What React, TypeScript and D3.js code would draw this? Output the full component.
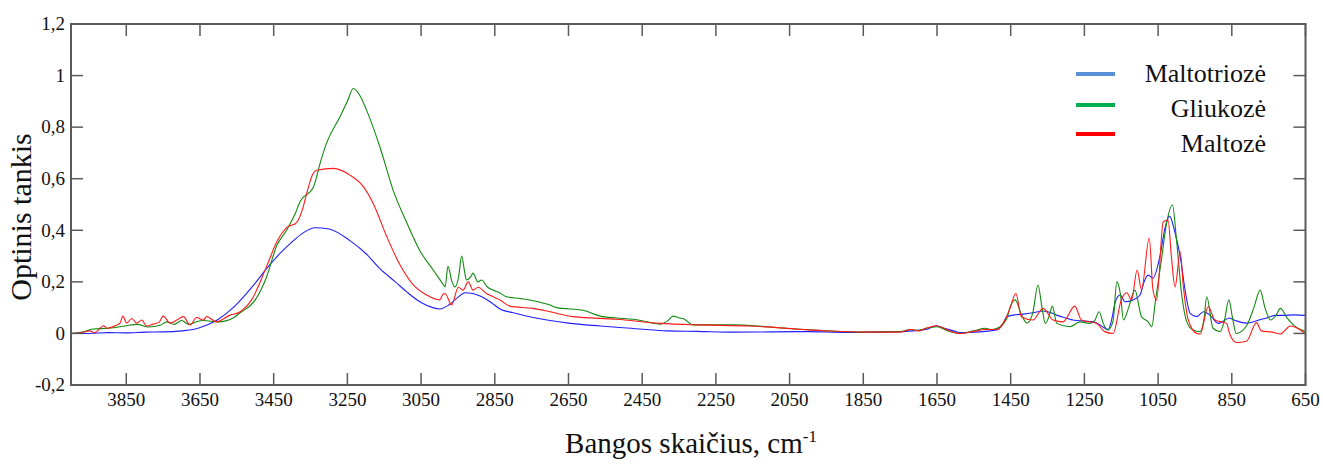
import React from "react";
import * as d3 from "d3";

const W = 1323;
const H = 465;

const xTicks = [3850, 3650, 3450, 3250, 3050, 2850, 2650, 2450, 2250, 2050, 1850, 1650, 1450, 1250, 1050, 850, 650];
const yTicks = [-0.2, 0, 0.2, 0.4, 0.6, 0.8, 1, 1.2];
const yTickLabels = ["-0,2", "0", "0,2", "0,4", "0,6", "0,8", "1", "1,2"];

const seriesNames = ["Maltotriozė", "Gliukozė", "Maltozė"];
const lineColors = ["#1f1fff", "#108a10", "#ff1a1a"];
const legendColors = ["#5b8fd8", "#00b050", "#ff0000"];

const blueWn = [4000, 3950, 3900, 3850, 3800, 3750, 3700, 3669, 3640, 3600, 3560, 3530, 3500, 3470, 3433, 3400, 3370, 3338, 3300, 3243, 3200, 3161, 3120, 3088, 3050, 3018, 2999, 2975, 2950, 2931, 2910, 2890, 2860, 2836, 2800, 2746, 2700, 2650, 2564, 2480, 2383, 2300, 2203, 2100, 2000, 1900, 1800, 1750, 1700, 1680, 1651, 1630, 1600, 1588, 1550, 1520, 1488, 1470, 1461, 1440, 1416, 1390, 1362, 1340, 1325, 1300, 1281, 1250, 1226, 1205, 1186, 1175, 1167, 1153, 1140, 1118, 1099, 1088, 1077, 1064, 1045, 1031, 1019, 1004, 990, 977, 963, 945, 927, 909, 887, 870, 858, 840, 810, 780, 756, 730, 712, 680, 650];
const blueAbs = [0.0, 0.0, 0.003, 0.002, 0.005, 0.006, 0.01, 0.015, 0.028, 0.055, 0.1, 0.145, 0.195, 0.25, 0.31, 0.355, 0.39, 0.41, 0.405, 0.36, 0.31, 0.25, 0.2, 0.16, 0.12, 0.1, 0.095, 0.11, 0.14, 0.158, 0.155, 0.145, 0.12, 0.095, 0.08, 0.062, 0.05, 0.04, 0.029, 0.02, 0.01, 0.008, 0.005, 0.006, 0.007, 0.004, 0.006, 0.007, 0.012, 0.015, 0.03, 0.02, 0.008, 0.003, 0.005, 0.008, 0.013, 0.04, 0.065, 0.072, 0.075, 0.08, 0.087, 0.08, 0.071, 0.06, 0.052, 0.048, 0.045, 0.03, 0.015, 0.06, 0.118, 0.149, 0.123, 0.13, 0.149, 0.2, 0.226, 0.214, 0.3, 0.41, 0.455, 0.39, 0.3, 0.17, 0.078, 0.065, 0.084, 0.071, 0.039, 0.05, 0.06, 0.05, 0.04, 0.05, 0.06, 0.07, 0.07, 0.072, 0.07];

const greenWn = [4000, 3970, 3940, 3900, 3867, 3850, 3820, 3790, 3758, 3740, 3720, 3700, 3680, 3660, 3642, 3600, 3560, 3541, 3500, 3469, 3442, 3415, 3390, 3379, 3343, 3320, 3306, 3270, 3250, 3234, 3215, 3198, 3161, 3126, 3089, 3053, 3017, 2990, 2985, 2977, 2966, 2958, 2948, 2940, 2932, 2927, 2915, 2909, 2896, 2886, 2870, 2855, 2836, 2818, 2780, 2746, 2700, 2682, 2610, 2564, 2520, 2474, 2420, 2401, 2380, 2366, 2350, 2339, 2312, 2250, 2203, 2112, 2022, 1950, 1850, 1750, 1720, 1700, 1680, 1651, 1620, 1588, 1550, 1520, 1500, 1479, 1460, 1452, 1438, 1420, 1406, 1390, 1376, 1365, 1356, 1345, 1337, 1325, 1289, 1262, 1235, 1222, 1210, 1199, 1186, 1172, 1162, 1152, 1144, 1130, 1113, 1095, 1077, 1067, 1058, 1041, 1027, 1011, 1000, 986, 972, 955, 936, 925, 918, 901, 882, 870, 858, 848, 838, 810, 790, 773, 760, 745, 730, 718, 700, 683, 650];
const greenAbs = [0.0, 0.005, 0.017, 0.02, 0.026, 0.03, 0.035, 0.025, 0.032, 0.045, 0.035, 0.05, 0.035, 0.045, 0.05, 0.045, 0.06, 0.08, 0.13, 0.22, 0.34, 0.4, 0.47, 0.51, 0.565, 0.68, 0.74, 0.84, 0.9, 0.95, 0.92, 0.866, 0.72, 0.556, 0.43, 0.32, 0.246, 0.19, 0.18, 0.26, 0.2, 0.18, 0.22, 0.3, 0.24, 0.207, 0.22, 0.234, 0.2, 0.207, 0.18, 0.168, 0.157, 0.142, 0.135, 0.127, 0.11, 0.1, 0.09, 0.067, 0.06, 0.055, 0.04, 0.036, 0.05, 0.067, 0.06, 0.058, 0.033, 0.033, 0.033, 0.026, 0.016, 0.01, 0.005, 0.007, 0.015, 0.012, 0.02, 0.026, 0.01, 0.0, 0.01, 0.02, 0.015, 0.026, 0.06, 0.1, 0.13, 0.07, 0.04, 0.08, 0.188, 0.1, 0.039, 0.07, 0.106, 0.039, 0.026, 0.045, 0.039, 0.05, 0.084, 0.039, 0.013, 0.05, 0.2, 0.15, 0.052, 0.1, 0.168, 0.065, 0.045, 0.026, 0.118, 0.285, 0.427, 0.498, 0.362, 0.15, 0.045, 0.013, 0.007, 0.06, 0.142, 0.02, 0.007, 0.05, 0.13, 0.06, 0.0, 0.03, 0.1, 0.168, 0.1, 0.052, 0.07, 0.097, 0.06, 0.033, 0.007];

const redWn = [4000, 3970, 3950, 3935, 3912, 3903, 3880, 3867, 3859, 3849, 3835, 3822, 3808, 3795, 3777, 3760, 3750, 3731, 3713, 3695, 3677, 3659, 3641, 3632, 3605, 3570, 3541, 3510, 3469, 3440, 3415, 3388, 3370, 3361, 3343, 3333, 3288, 3243, 3207, 3180, 3143, 3107, 3071, 3035, 3000, 2990, 2985, 2967, 2949, 2936, 2922, 2909, 2895, 2873, 2854, 2836, 2809, 2746, 2700, 2637, 2519, 2401, 2293, 2157, 2022, 1950, 1850, 1750, 1720, 1700, 1680, 1651, 1620, 1588, 1550, 1520, 1488, 1470, 1452, 1436, 1421, 1390, 1362, 1335, 1308, 1276, 1258, 1217, 1195, 1172, 1150, 1135, 1122, 1107, 1095, 1074, 1064, 1054, 1036, 1023, 1014, 1004, 990, 982, 968, 945, 936, 914, 896, 864, 856, 837, 810, 783, 770, 740, 718, 691, 664, 650];
const redAbs = [0.0, 0.003, 0.01, 0.003, 0.03, 0.02, 0.03, 0.04, 0.067, 0.04, 0.058, 0.04, 0.052, 0.029, 0.036, 0.045, 0.067, 0.04, 0.052, 0.065, 0.033, 0.062, 0.052, 0.065, 0.045, 0.07, 0.084, 0.13, 0.26, 0.36, 0.41, 0.43, 0.49, 0.54, 0.62, 0.633, 0.64, 0.614, 0.57, 0.504, 0.375, 0.265, 0.188, 0.149, 0.13, 0.153, 0.155, 0.11, 0.179, 0.168, 0.2, 0.168, 0.179, 0.155, 0.142, 0.13, 0.106, 0.097, 0.084, 0.065, 0.055, 0.039, 0.033, 0.029, 0.016, 0.01, 0.005, 0.005, 0.015, 0.01, 0.02, 0.03, 0.012, 0.0, 0.008, 0.015, 0.015, 0.04, 0.097, 0.155, 0.065, 0.052, 0.097, 0.052, 0.045, 0.106, 0.052, 0.039, 0.007, 0.0, 0.13, 0.158, 0.13, 0.246, 0.17, 0.37, 0.17, 0.13, 0.433, 0.44, 0.3, 0.18, 0.317, 0.19, 0.052, 0.0, -0.002, 0.104, 0.052, 0.039, 0.0, -0.035, -0.03, 0.042, 0.01, 0.005, -0.002, 0.029, 0.013, -0.003];

const left = 71;
const right = 1305.5;
const top = 24;
const bottom = 385;

const FONT = '"Liberation Serif"';

export default function App() {
  const x = d3.scaleLinear().domain([4000, 650]).range([left, right]);
  const y = d3.scaleLinear().domain([-0.2, 1.2]).range([bottom, top]);
  const series = [
    { wn: blueWn, v: blueAbs },
    { wn: greenWn, v: greenAbs },
    { wn: redWn, v: redAbs },
  ];
  const line = d3
    .line<[number, number]>()
    .x((d) => x(d[0]))
    .y((d) => y(d[1]))
    .curve(d3.curveMonotoneX);
  const axisColor = "#5a5a5a";
  const tickLen = 12;
  const legendLineY = [74, 105, 134];
  const legendTextY = [82, 116.5, 151.5];
  const ts = { fontFamily: FONT };

  return (
    <svg width={W} height={H} style={{ position: "absolute", left: 0, top: 0 }}>
      <rect x={0} y={0} width={W} height={H} fill="#fff" />
      <defs>
        <clipPath id="plotclip">
          <rect x={left} y={top} width={right - left} height={bottom - top} />
        </clipPath>
      </defs>
      <g clipPath="url(#plotclip)">
        {series.map((s, i) => (
          <path
            key={i}
            d={line(s.wn.map((w, j) => [w, s.v[j]] as [number, number])) || ""}
            fill="none"
            stroke={lineColors[i]}
            strokeWidth={1.1}
            strokeLinejoin="round"
          />
        ))}
      </g>
      {xTicks.map((t) => (
        <g key={"x" + t}>
          <line x1={x(t)} x2={x(t)} y1={bottom} y2={bottom - tickLen} stroke={axisColor} strokeWidth={1.5} />
          <line x1={x(t)} x2={x(t)} y1={top} y2={top + tickLen} stroke={axisColor} strokeWidth={1.5} />
          <text x={x(t)} y={406} textAnchor="middle" fontSize={19} fill="#111" style={ts}>
            {t}
          </text>
        </g>
      ))}
      {yTicks.map((t, i) => (
        <g key={"y" + t}>
          <line x1={left} x2={left + tickLen} y1={y(t)} y2={y(t)} stroke={axisColor} strokeWidth={1.5} />
          <line x1={right} x2={right - tickLen} y1={y(t)} y2={y(t)} stroke={axisColor} strokeWidth={1.5} />
          <text x={65} y={y(t)} dy="0.33em" textAnchor="end" fontSize={19} fill="#111" style={ts}>
            {yTickLabels[i]}
          </text>
        </g>
      ))}
      <rect x={left} y={top} width={right - left} height={bottom - top} fill="none" stroke={axisColor} strokeWidth={2} />
      {seriesNames.map((n, i) => (
        <g key={n}>
          <line x1={1076} x2={1115} y1={legendLineY[i]} y2={legendLineY[i]} stroke={legendColors[i]} strokeWidth={4} />
          <text x={1266} y={legendTextY[i]} textAnchor="end" fontSize={26} fill="#111" style={ts}>
            {n}
          </text>
        </g>
      ))}
      <text x={691} y={453} textAnchor="middle" fontSize={29} fill="#111" style={ts}>
        Bangos skaičius, cm<tspan dy={-11} fontSize={17}>-1</tspan>
      </text>
      <text transform="translate(31,217) rotate(-90)" textAnchor="middle" fontSize={30} fill="#111" style={ts}>
        Optinis tankis
      </text>
    </svg>
  );
}
